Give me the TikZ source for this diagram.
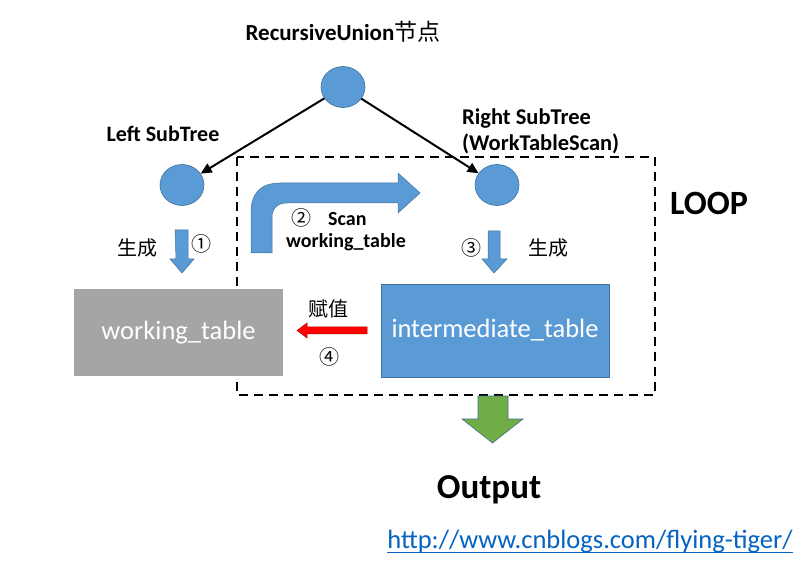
\documentclass[tikz,border=0pt]{standalone}
\usepackage{fontspec}
\setmainfont{Carlito}
\newfontfamily\cjk{Noto Sans CJK SC}
\usetikzlibrary{arrows.meta,shapes.geometric}
\definecolor{cblue}{HTML}{5B9BD5}
\definecolor{cblueb}{HTML}{41719C}
\definecolor{cgray}{HTML}{A5A5A5}
\definecolor{cgreen}{HTML}{70AD47}
\definecolor{clink}{HTML}{0563C1}
\tikzset{
  circ/.style={ellipse, minimum width=44pt, minimum height=41pt, inner sep=0pt, fill=cblue, draw=cblueb, line width=0.6pt},
  lbl/.style={inner sep=0pt, font=\fontsize{22}{26}\selectfont\bfseries},
  cjklbl/.style={inner sep=0pt, font=\fontsize{20}{24}\selectfont\cjk},
  bluearrow/.style={fill=cblue, draw=cblueb, line width=0.5pt},
  conn/.style={line width=2pt, -{Triangle[length=11pt,width=10pt]}}
}
\begin{document}
\begin{tikzpicture}[x=1pt,y=-1pt]
\useasboundingbox (0,0) rectangle (804,564);
\fill[white] (0,0) rectangle (804,564);
% title
\node[inner sep=0pt, font=\fontsize{23}{27}\selectfont\bfseries] (title) at (343,32) {RecursiveUnion{\cjk\mdseries 节点}};
% circles
\node[circ] (top) at (343,87) {};
\node[circ] (left) at (182,185) {};
\node[circ] (right) at (497,185) {};
\draw[conn] (top) -- (left);
\draw[conn] (top) -- (right);
\node[lbl] (lst) at (163,134) {Left SubTree};
\node[lbl, align=left, anchor=west, font=\fontsize{22.5}{26}\selectfont\bfseries] (rst) at (462,131) {Right SubTree\\(WorkTableScan)};
% loop box
\draw[line width=2.2pt, dash pattern=on 9pt off 6pt] (237,157) rectangle (655,395);
\node[inner sep=0pt, font=\fontsize{34}{38}\selectfont\bfseries] (loop) at (709,203) {LOOP};
% bent arrow
\draw[bluearrow] (251,253) -- (251,212) .. controls (251,194) and (260,183) .. (280,183) -- (398,183) -- (398,173) -- (420,193) -- (398,213) -- (398,203) -- (287,203) .. controls (278,203) and (272,208) .. (272,217) -- (272,253) -- cycle;
\node[inner sep=0pt, font=\fontsize{20}{24}\selectfont\bfseries, anchor=west] (scan) at (291,218) {{\cjk\mdseries ②}\hspace{17pt}Scan};
\node[inner sep=0pt, font=\fontsize{20}{24}\selectfont\bfseries] (wt2) at (346,242) {working\_table};
% small down arrows
\draw[bluearrow] (175,230) -- (188,230) -- (188,259) -- (194,259) -- (182,273) -- (170,259) -- (176,259) -- cycle;
\draw[bluearrow] (488,231) -- (500,231) -- (500,259) -- (507,259) -- (494,273) -- (482,259) -- (488,259) -- cycle;
\node[cjklbl] (gen1) at (137,248) {生成};
\node[cjklbl] (c1) at (201,244) {①};
\node[cjklbl] (c3) at (471,248) {③};
\node[cjklbl] (gen2) at (548,248) {生成};
% tables
\node[fill=cgray, minimum width=209pt, minimum height=87pt, inner sep=0pt, text=white, font=\fontsize{26.5}{30}\selectfont] (wt) at (178.5,332.5) {\raisebox{-2pt}{working\_table}};
\node[fill=cblue, draw=cblueb, line width=0.8pt, minimum width=228pt, minimum height=93pt, inner sep=0pt, text=white, font=\fontsize{26.5}{30}\selectfont] (it) at (495,330.5) {\raisebox{-1.5pt}{intermediate\_table}};
% red arrow
\draw[fill=red, draw=red!70!black, line width=0.5pt] (367,327) -- (307,327) -- (307,323) -- (297,330.5) -- (307,338) -- (307,334) -- (367,334) -- cycle;
\node[cjklbl] (assign) at (328,309) {赋值};
\node[cjklbl] (c4) at (329,357) {④};
% green arrow
\draw[fill=cgreen, draw=cblueb, line width=0.6pt] (478,396) -- (508,396) -- (508,419) -- (523,419) -- (492.5,443) -- (462,419) -- (478,419) -- cycle;
\node[inner sep=0pt, font=\fontsize{35}{40}\selectfont\bfseries] (out) at (489,490) {Output};
% link
\node[inner sep=0pt, text=clink, font=\fontsize{26.5}{30}\selectfont] (link) at (590,542) {http://www.cnblogs.com/flying-tiger/};
\draw[clink, line width=1.2pt] ([yshift=-3.5pt]link.base west) -- ([yshift=-3.5pt]link.base east);
\end{tikzpicture}
\end{document}
